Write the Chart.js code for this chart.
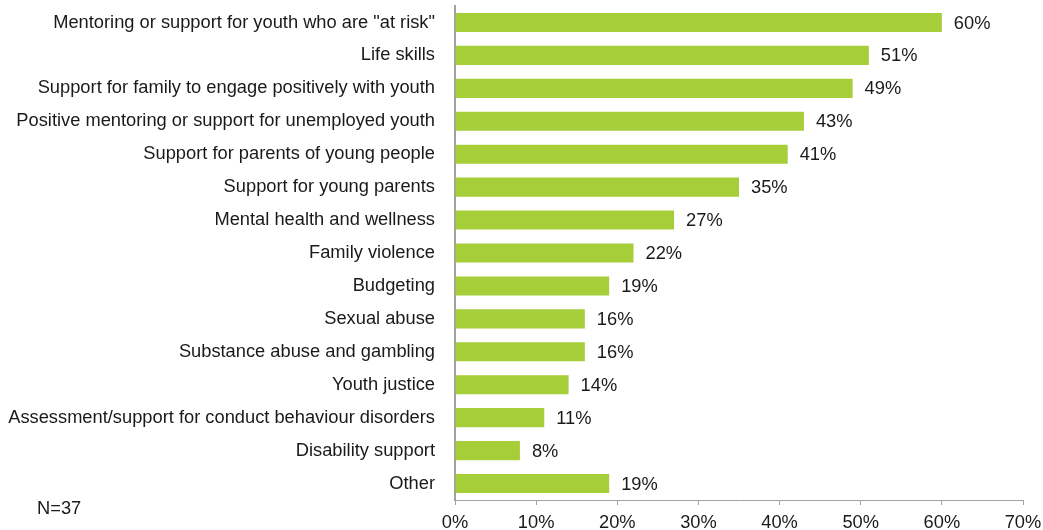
<!DOCTYPE html>
<html>
<head>
<meta charset="utf-8">
<script src="https://cdn.jsdelivr.net/npm/chart.js@4/dist/chart.umd.min.js"></script>
<style>
  html, body { margin: 0; padding: 0; background: #ffffff; }
  #wrap { position: relative; width: 1043px; height: 530px; }
</style>
</head>
<body>
<div id="wrap"><canvas id="chart" width="1043" height="530"></canvas></div>
<script>
// Support needs reported by respondents (percent of N=37)
const categories = [
  'Mentoring or support for youth who are "at risk"',
  'Life skills',
  'Support for family to engage positively with youth',
  'Positive mentoring or support for unemployed youth',
  'Support for parents of young people',
  'Support for young parents',
  'Mental health and wellness',
  'Family violence',
  'Budgeting',
  'Sexual abuse',
  'Substance abuse and gambling',
  'Youth justice',
  'Assessment/support for conduct behaviour disorders',
  'Disability support',
  'Other'
];
const percentages = [60, 51, 49, 43, 41, 35, 27, 22, 19, 16, 16, 14, 11, 8, 19];
const xTickValues = [0, 10, 20, 30, 40, 50, 60, 70];
const sampleNote = 'N=37';

const FONT = '"Liberation Sans", Arial, sans-serif';
const FONT_SIZE = 18.3;
const TEXT = '#1a1a1a';
const AXIS = '#a0a0a0';

// Writes each bar's percentage just past its end, plus the sample size note
const valueLabels = {
  id: 'valueLabels',
  afterDatasetsDraw(chart) {
    const ctx = chart.ctx;
    const meta = chart.getDatasetMeta(0);
    ctx.save();
    ctx.font = FONT_SIZE + 'px ' + FONT;
    ctx.fillStyle = TEXT;
    ctx.textAlign = 'left';
    ctx.textBaseline = 'middle';
    meta.data.forEach((bar, i) => {
      ctx.fillText(percentages[i] + '%', bar.x + 12, bar.y + 1);
    });
    ctx.fillText(sampleNote, 37, 509);
    ctx.restore();
  }
};

new Chart(document.getElementById('chart'), {
  type: 'bar',
  data: {
    labels: categories,
    datasets: [{
      data: percentages,
      backgroundColor: '#a6ce39',
      borderWidth: 0,
      categoryPercentage: 1.0,
      barPercentage: 0.58
    }]
  },
  options: {
    indexAxis: 'y',
    responsive: false,
    animation: false,
    layout: { padding: { top: 6, right: 20, bottom: 0, left: 0 } },
    plugins: { legend: { display: false }, tooltip: { enabled: false } },
    scales: {
      x: {
        min: 0,
        max: 70,
        afterBuildTicks(scale) {
          scale.ticks = xTickValues.map(v => ({ value: v }));
        },
        afterFit(scale) {
          scale.height = 30;
          scale.paddingLeft = 0;
          scale.paddingRight = 0;
        },
        ticks: {
          callback: v => v + '%',
          color: TEXT,
          font: { family: FONT, size: FONT_SIZE },
          padding: 7,
          maxRotation: 0
        },
        grid: {
          drawOnChartArea: false,
          drawTicks: true,
          tickLength: 5,
          color: AXIS,
          lineWidth: 1
        },
        border: { display: true, color: AXIS, width: 1 }
      },
      y: {
        afterFit(scale) {
          scale.width = 455;
          scale.paddingTop = 0;
          scale.paddingBottom = 0;
        },
        ticks: {
          color: TEXT,
          font: { family: FONT, size: FONT_SIZE },
          padding: 20,
          autoSkip: false
        },
        grid: { display: false, drawTicks: false },
        border: { display: true, color: AXIS, width: 2 }
      }
    }
  },
  plugins: [valueLabels]
});
</script>
</body>
</html>
